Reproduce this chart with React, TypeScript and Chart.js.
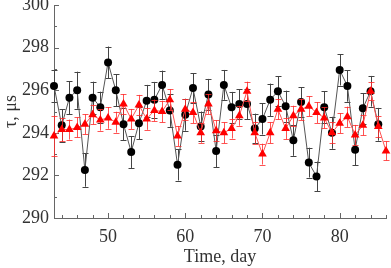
import React, { useEffect, useRef } from "react";
import { Chart, registerables } from "chart.js";

Chart.register(...registerables);

const days = [43, 44, 45, 46, 47, 48, 49, 50, 51, 52, 53, 54, 55, 56, 57, 58, 59, 60, 61, 62, 63, 64, 65, 66, 67, 68, 69, 70, 71, 72, 73, 74, 75, 76, 77, 78, 79, 80, 81, 82, 83, 84, 85, 86];

const blackValues = [296.2, 294.35, 295.65, 296.0, 292.25, 295.65, 295.2, 297.3, 296.0, 294.4, 293.1, 294.45, 295.5, 295.55, 296.25, 295.05, 292.5, 294.85, 296.1, 294.3, 295.8, 293.15, 296.25, 295.2, 295.35, 295.35, 294.2, 294.65, 295.55, 295.95, 295.25, 293.65, 295.45, 292.6, 291.95, 295.2, 294.0, 296.95, 296.2, 293.2, 295.15, 295.95, 294.4];
const blackErrors = [0.75, 0.76, 0.77, 0.87, 0.78, 0.75, 0.73, 0.75, 0.76, 0.76, 0.75, 0.75, 0.75, 0.84, 0.67, 0.77, 0.74, 0.75, 0.7, 0.7, 0.73, 0.77, 0.7, 0.72, 0.7, 0.7, 0.7, 0.73, 0.76, 0.7, 0.73, 0.73, 0.7, 0.7, 0.7, 0.75, 0.75, 0.73, 0.74, 0.73, 0.72, 0.72, 0.77];

const redValues = [293.85, 294.15, 294.15, 294.25, 294.4, 294.85, 294.6, 294.7, 294.5, 295.35, 294.65, 295.3, 294.65, 295.05, 295.0, 295.55, 293.85, 295.1, 294.95, 294.0, 295.35, 294.1, 294.0, 294.2, 294.8, 295.95, 294.0, 293.0, 294.0, 295.1, 294.2, 294.8, 295.1, 295.25, 294.95, 294.7, 294.0, 294.45, 294.75, 293.9, 294.35, 295.95, 294.3, 293.15];
const redErrors = [0.96, 0.55, 0.47, 0.47, 0.47, 0.46, 0.5, 0.51, 0.49, 0.47, 0.47, 0.48, 0.51, 0.51, 0.51, 0.49, 0.47, 0.49, 0.49, 0.47, 0.47, 0.49, 0.49, 0.47, 0.47, 0.45, 0.51, 0.49, 0.49, 0.47, 0.51, 0.47, 0.5, 0.47, 0.49, 0.49, 0.49, 0.47, 0.48, 0.47, 0.47, 0.43, 0.49, 0.45];

const xTickLabels = [50, 60, 70, 80];
const yTickLabels = [290, 292, 294, 296, 298, 300];

const FONT = "'Liberation Serif', 'Times New Roman', serif";
const TEXT = "#333";

const errorBarPlugin = {
  id: "errorBars",
  beforeDatasetDraw(chart: any, args: any) {
    const ds: any = chart.data.datasets[args.index];
    const errs: number[] | undefined = ds.errors;
    if (!errs) return;
    const ctx = chart.ctx;
    const yScale = chart.scales.y;
    ctx.save();
    ctx.strokeStyle = ds.errorColor;
    ctx.lineWidth = 1;
    args.meta.data.forEach((pt: any, i: number) => {
      const v = ds.data[i].y;
      const top = yScale.getPixelForValue(v + errs[i]);
      const bot = yScale.getPixelForValue(v - errs[i]);
      const x = Math.round(pt.x) + 0.5;
      ctx.beginPath();
      ctx.moveTo(x, top);
      ctx.lineTo(x, bot);
      ctx.moveTo(x - 3, Math.round(top) + 0.5);
      ctx.lineTo(x + 3, Math.round(top) + 0.5);
      ctx.moveTo(x - 3, Math.round(bot) + 0.5);
      ctx.lineTo(x + 3, Math.round(bot) + 0.5);
      ctx.stroke();
    });
    ctx.restore();
  },
};

const innerTicksPlugin = {
  id: "innerTicks",
  beforeDatasetsDraw(chart: any) {
    const ctx = chart.ctx;
    const xs = chart.scales.x;
    const ys = chart.scales.y;
    const area = chart.chartArea;
    ctx.save();
    ctx.strokeStyle = "#666";
    ctx.lineWidth = 1;
    ctx.beginPath();
    for (let v = ys.min; v <= ys.max; v += 1) {
      const y = Math.round(ys.getPixelForValue(v)) + 0.5;
      const len = yTickLabels.includes(v) ? 5 : 3;
      ctx.moveTo(area.left, y);
      ctx.lineTo(area.left + len, y);
    }
    for (let d = 44; d <= xs.max; d += 2) {
      const x = Math.round(xs.getPixelForValue(d)) + 0.5;
      const len = xTickLabels.includes(d) ? 5 : 3;
      ctx.moveTo(x, area.bottom);
      ctx.lineTo(x, area.bottom - len);
    }
    ctx.stroke();
    ctx.restore();
  },
};

export default function App() {
  const canvasRef = useRef<HTMLCanvasElement>(null);

  useEffect(() => {
    document.body.style.margin = "0";
    const blackData = blackValues.map((v, i) => ({ x: days[i], y: v }));
    const redData = redValues.map((v, i) => ({ x: days[i], y: v }));
    const chart = new Chart(canvasRef.current as HTMLCanvasElement, {
      type: "line",
      data: {
        datasets: [
          {
            label: "black",
            data: blackData,
            order: 2,
            clip: false,
            borderColor: "#555",
            borderWidth: 1,
            pointStyle: "circle",
            pointRadius: 4,
            pointBackgroundColor: "#000",
            pointBorderColor: "#000",
            pointBorderWidth: 0,
            errors: blackErrors,
            errorColor: "#444",
          } as any,
          {
            label: "red",
            data: redData,
            order: 1,
            clip: false,
            borderColor: "#ff5050",
            borderWidth: 1,
            pointStyle: "triangle",
            pointRadius: 5,
            pointBackgroundColor: "#ff0000",
            pointBorderColor: "#ff0000",
            pointBorderWidth: 0,
            errors: redErrors,
            errorColor: "rgba(255,40,40,0.8)",
          } as any,
        ],
      },
      options: {
        animation: false,
        responsive: true,
        maintainAspectRatio: false,
        layout: { padding: { top: 5, right: 5, left: 0, bottom: 0 } },
        plugins: {
          legend: { display: false },
          tooltip: { enabled: false },
        },
        scales: {
          x: {
            type: "linear",
            min: 43,
            max: 86,
            afterFit: (s: any) => {
              s.height = 50;
            },
            grid: { display: true, drawOnChartArea: false, drawTicks: false },
            border: { display: true, color: "#666", width: 1 },
            afterBuildTicks: (s: any) => {
              s.ticks = xTickLabels.map((v) => ({ value: v }));
            },
            ticks: {
              autoSkip: false,
              maxRotation: 0,
              padding: 8,
              color: TEXT,
              font: { family: FONT, size: 18 },
            },
            title: {
              display: true,
              text: "Time, day",
              color: TEXT,
              padding: { top: 0, bottom: 0 },
              font: { family: FONT, size: 18 },
            },
          },
          y: {
            min: 290,
            max: 300,
            afterFit: (s: any) => {
              s.width = 54;
              s.paddingTop = 0;
            },
            grid: { display: true, drawOnChartArea: false, drawTicks: false },
            border: { display: true, color: "#666", width: 1 },
            afterBuildTicks: (s: any) => {
              s.ticks = yTickLabels.map((v) => ({ value: v }));
            },
            ticks: {
              padding: 5,
              color: TEXT,
              font: { family: FONT, size: 18 },
            },
            title: {
              display: true,
              text: "τ, μs",
              color: TEXT,
              padding: { top: 0, bottom: 2 },
              font: { family: FONT, size: 18 },
            },
          },
        },
      },
      plugins: [errorBarPlugin, innerTicksPlugin],
    });
    return () => chart.destroy();
  }, []);

  return (
    <div style={{ width: 391, height: 268, position: "relative" }}>
      <canvas ref={canvasRef} />
    </div>
  );
}
